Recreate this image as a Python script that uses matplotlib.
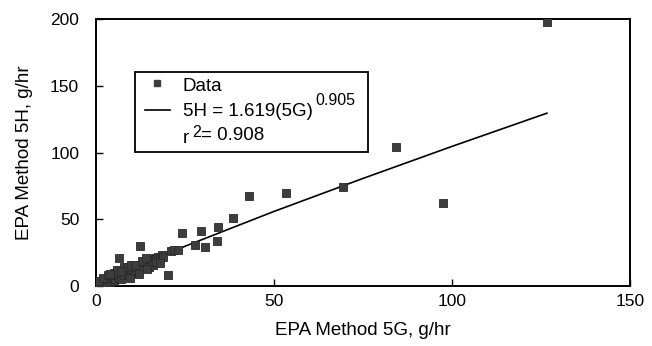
import matplotlib.pyplot as plt
from matplotlib.patches import Rectangle

plt.rcParams['font.family'] = ['Liberation Sans', 'DejaVu Sans']

# Datos (g/hr)
method_5g = [0.5, 1, 1.5, 2, 2.5, 3, 3, 3.5, 4, 4.5, 5, 5, 5.5, 6, 6.5, 7, 7,
             7.5, 8, 8.5, 9, 9.5, 10, 10.5, 11, 11.5, 12, 12.5, 13, 13.5, 14,
             14.5, 15, 15.5, 16, 16.5, 17, 17.5, 18, 18.5, 19, 6.4, 12.4, 20.2,
             21, 22, 23, 24.1, 27.9, 30.6, 29.4, 33.9, 34.3, 38.6, 43.1, 53.5,
             69.4, 84.3, 97.5, 126.7,
             1, 2, 3.5, 5, 6, 8, 9, 10, 11, 13, 14, 15, 16, 17, 18, 4, 7,
             9.5, 12, 14.5]
method_5h = [1, 2, 1, 3, 2, 4, 1.5, 5, 3, 6, 4, 7, 5, 8, 6, 9, 5,
             10, 8, 11, 9, 12, 10, 13, 12, 14, 13, 16, 15, 18, 17,
             19, 17, 20, 19, 21, 20, 22, 21, 23, 22, 21, 30, 8,
             26, 27, 27, 40, 30.7, 29.4, 41.4, 34, 44.4, 50.7, 67.4, 69.5,
             74.5, 104, 62, 198,
             4, 6, 8, 10, 12, 14, 14, 16, 16, 19, 21, 14, 16, 18, 17, 9, 11,
             6, 9, 13]

# Recta de ajuste 5H = 1.619(5G)^0.905, puntos leidos
fit_x = [0.5, 10, 25, 50, 75, 100, 126.7]
fit_y = [0.9, 13.0, 29.8, 55.9, 80.6, 104.6, 129.5]

fig = plt.figure(figsize=(6.52, 3.46), dpi=100)
ax = fig.add_axes([0.147, 0.173, 0.819, 0.772])

ax.plot(fit_x, fit_y, color='black', lw=1.2, zorder=2)
ax.scatter(method_5g, method_5h, marker='s', s=34, color='#3d3d3d',
           edgecolors='#2a2a2a', linewidths=0.6, zorder=3)

ax.set_xlim(0, 150)
ax.set_ylim(0, 200)
ax.set_xticks([0, 50, 100, 150])
ax.set_yticks([0, 50, 100, 150, 200])
ax.tick_params(direction='in', length=5, width=1, labelsize=12.5,
               top=False, right=False)
ax.tick_params(axis='x', pad=6)
ax.tick_params(axis='y', pad=12)
for s in ax.spines.values():
    s.set_linewidth(1.4)

ax.set_xlabel('EPA Method 5G, g/hr', fontsize=13.5, labelpad=9)
ax.set_ylabel('EPA Method 5H, g/hr', fontsize=13.5, labelpad=12)

# Leyenda dibujada a mano
ax.add_patch(Rectangle((0.073, 0.502), 0.436, 0.299, transform=ax.transAxes,
                       fill=False, lw=1.3, color='black', zorder=4))
ax.plot([0.114], [0.760], marker='s', ms=4.5, color='#3d3d3d',
        transform=ax.transAxes, zorder=5)
ax.plot([0.092, 0.139], [0.659, 0.659], color='black', lw=1.2,
        transform=ax.transAxes, zorder=5)
ax.text(0.163, 0.748, 'Data', transform=ax.transAxes, fontsize=13.5,
        va='center', ha='left')
eq = ax.text(0.163, 0.652, '5H = 1.619(5G)', transform=ax.transAxes,
             fontsize=13.5, va='center', ha='left')
ax.annotate('0.905', xy=(1.0, 0.75), xycoords=eq, xytext=(2, 0),
            textcoords='offset points', fontsize=11.5, va='bottom', ha='left')
r = ax.text(0.163, 0.552, 'r', transform=ax.transAxes, fontsize=13.5,
            va='center', ha='left')
sq = ax.annotate('2', xy=(1.0, 0.45), xycoords=r, xytext=(2, 0),
                 textcoords='offset points', fontsize=11.5, va='bottom',
                 ha='left')
ax.annotate('= 0.908', xy=(1.0, 0.0), xycoords=sq, xytext=(0, -3),
            textcoords='offset points', fontsize=13.5, va='bottom', ha='left')

fig.savefig('out.png', dpi=100)
